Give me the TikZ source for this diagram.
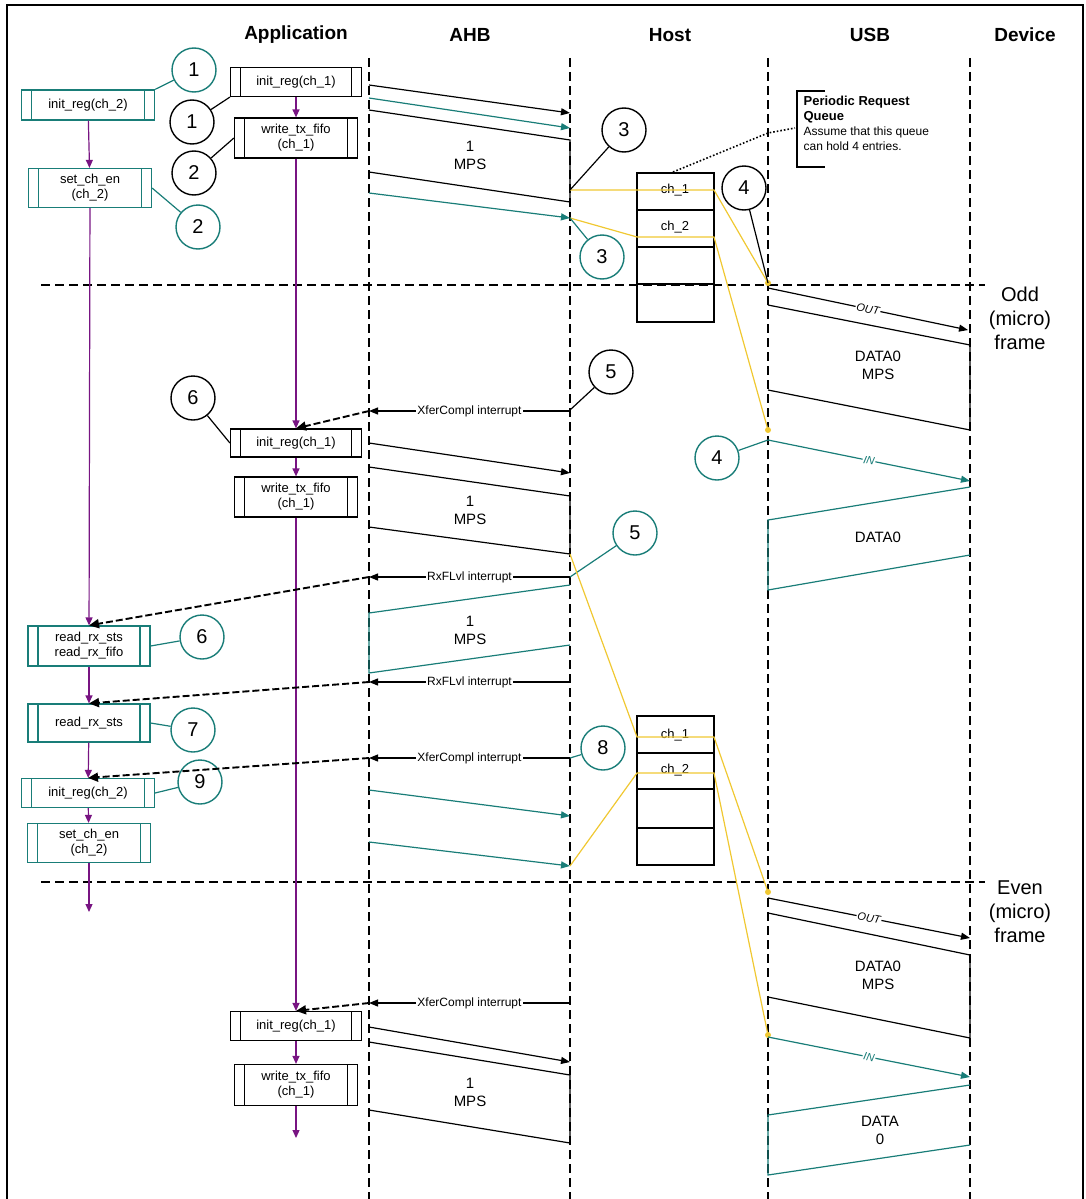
\documentclass[tikz,border=0pt]{standalone}
\usepackage{fontspec}
\setmainfont{Liberation Sans}
\usetikzlibrary{arrows.meta}
\definecolor{tl}{RGB}{25,125,120}
\definecolor{pu}{RGB}{120,20,130}
\definecolor{ye}{RGB}{240,200,50}
\begin{document}
\begin{tikzpicture}[x=1pt,y=-1pt,line width=1.2pt,
 lane/.style={dash pattern=on 9pt off 5pt,line width=2pt},
 hdr/.style={font=\bfseries\fontsize{19}{22}\selectfont},
 pbox/.style={draw=#1,rectangle,inner sep=1pt,align=center,font=\fontsize{13}{15}\selectfont,
   path picture={\draw[#1,line width=1.2pt] ([xshift=10pt]path picture bounding box.north west)--([xshift=10pt]path picture bounding box.south west)
    ([xshift=-10pt]path picture bounding box.north east)--([xshift=-10pt]path picture bounding box.south east);}},
 num/.style={draw=#1,circle,minimum size=44pt,inner sep=0pt,font=\fontsize{20}{22}\selectfont,line width=1.4pt,fill=white},
 parr/.style={pu,-{Triangle[length=8pt,width=7pt]}},
 barr/.style={-{Triangle[length=9pt,width=7pt]}},
 tarr/.style={tl,-{Triangle[length=9pt,width=7pt]}},
 intr/.style={-{Triangle[length=9pt,width=7pt]}},
 darr/.style={dash pattern=on 7pt off 3pt,line width=1.9pt,-{Triangle[length=10pt,width=9pt]}},
 ylw/.style={ye,line width=1.2pt},
 lbl/.style={fill=white,inner sep=1pt,font=\fontsize{12}{14}\selectfont},
 slbl/.style={fill=white,inner sep=1pt,sloped,font=\itshape\fontsize{11}{13}\selectfont},
 blk/.style={font=\fontsize{15}{18}\selectfont,align=center}]
\useasboundingbox (0,0) rectangle (1085,1199);
\draw[line width=1.4pt] (7,1199)--(7,5)--(1083,5)--(1083,1199);
\node[hdr] at (296,35) {Application};
\node[hdr] at (470,35) {AHB};
\node[hdr] at (670,35) {Host};
\node[hdr] at (870,35) {USB};
\node[hdr] at (1025,35) {Device};
\foreach \x in {369,570,768,970} \draw[lane] (\x,58)--(\x,1199);
\draw[lane] (41,285)--(985,285);
\draw[lane] (41,882)--(985,882);
\node[font=\fontsize{20}{24}\selectfont,align=center] at (1020,318) {Odd\\(micro)\\frame};
\node[font=\fontsize{20}{24}\selectfont,align=center] at (1020,912) {Even\\(micro)\\frame};
\node[pbox=tl,minimum width=133pt,minimum height=30pt] (a1) at (88,105) {init\_reg(ch\_2)};
\node[pbox=tl,minimum width=123pt,minimum height=39pt] (a2) at (90,188) {set\_ch\_en\\(ch\_2)};
\node[pbox=tl,minimum width=122pt,minimum height=40pt] (a3) at (89,646) {read\_rx\_sts\\read\_rx\_fifo};
\node[pbox=tl,minimum width=122pt,minimum height=38pt] (a4) at (89,723) {read\_rx\_sts};
\node[pbox=tl,minimum width=133pt,minimum height=29pt] (a5) at (88,793) {init\_reg(ch\_2)};
\node[pbox=tl,minimum width=123pt,minimum height=39pt] (a6) at (89,843) {set\_ch\_en\\(ch\_2)};
\coordinate (aend) at (89,912);
\draw[parr] (a1)--(a2);
\draw[parr] (a2)--(a3);
\draw[parr] (a3)--(a4);
\draw[parr] (a4)--(a5);
\draw[parr] (a5)--(a6);
\draw[parr] (a6)--(aend);
\node[pbox=black,minimum width=131pt,minimum height=29pt] (b1) at (296,82) {init\_reg(ch\_1)};
\node[pbox=black,minimum width=123pt,minimum height=40pt] (b2) at (296,138) {write\_tx\_fifo\\(ch\_1)};
\node[pbox=black,minimum width=131pt,minimum height=28pt] (b3) at (296,443) {init\_reg(ch\_1)};
\node[pbox=black,minimum width=123pt,minimum height=40pt] (b4) at (296,497) {write\_tx\_fifo\\(ch\_1)};
\node[pbox=black,minimum width=131pt,minimum height=29pt] (b5) at (296,1026) {init\_reg(ch\_1)};
\node[pbox=black,minimum width=123pt,minimum height=41pt] (b6) at (296,1085) {write\_tx\_fifo\\(ch\_1)};
\coordinate (bend) at (296,1138);
\draw[parr] (b1)--(b2);
\draw[parr] (b2)--(b3);
\draw[parr] (b3)--(b4);
\draw[parr] (b4)--(b5);
\draw[parr] (b5)--(b6);
\draw[parr] (b6)--(bend);
\node[num=tl] (t1) at (194,70) {1};
\draw[tl] (t1)--(a1.north east);
\node[num=black] (k1) at (192,122) {1};
\draw (k1)--(b1.south west);
\node[num=black] (k2) at (194,173) {2};
\draw (k2)--(b2.west);
\node[num=tl] (t2) at (198,227) {2};
\draw[tl] (t2)--(a2.east);
\node[num=black] (k6) at (193,398) {6};
\draw (k6)--(b3.west);
\node[num=tl] (t6) at (202,637) {6};
\draw[tl] (t6)--(a3.east);
\node[num=tl] (t7) at (193,730) {7};
\draw[tl] (t7)--(a4.east);
\node[num=tl] (t9) at (200,782) {9};
\draw[tl] (t9)--(a5.east);
\draw[barr] (369,85)--(570,113);
\draw[tarr] (369,98)--(570,128);
\draw (369,110)--(570,140)--(570,202)--(369,172);
\node[blk] at (470,155) {1\\MPS};
\draw[tarr] (369,193)--(570,218);
\draw (637,173) rectangle (714,322);
\foreach \y in {210,247,284} \draw (637,\y)--(714,\y);
\node[font=\fontsize{13}{15}\selectfont] at (675,190) {ch\_1};
\node[font=\fontsize{13}{15}\selectfont] at (675,227) {ch\_2};
\coordinate (q1a) at (570,190); \coordinate (q1b) at (570,218);
\coordinate (u1) at (768,283); \coordinate (u2) at (768,430);
\draw[ylw] (q1a)--(714,190)--(u1);
\draw[ylw] (q1b)--(637,237)--(714,237)--(u2);
\fill[ye] (u1) circle (3pt); \fill[ye] (u2) circle (3pt);
\node[num=black] (k3) at (624,130) {3};
\draw (k3)--(q1a);
\node[num=tl] (t3) at (602,257) {3};
\draw[tl] (t3)--(q1b);
\node[num=black] (k4) at (744,188) {4};
\draw (k4)--(u1);
\draw[dotted,line width=1.6pt] (673,172)--(768,133)--(795,128);
\draw (825,91)--(797,91)--(797,167)--(825,167);
\node[align=left,anchor=north west,inner sep=0pt,font=\fontsize{13}{15}\selectfont] at (803,95)
 {\textbf{Periodic Request}\\\textbf{Queue}\\{\fontsize{12}{14}\selectfont Assume that this queue}\\{\fontsize{12}{14}\selectfont can hold 4 entries.}};
\draw[barr] (768,288)--node[slbl]{OUT}(968,330);
\draw (768,305)--(970,345)--(970,430)--(768,390);
\node[blk] at (878,365) {DATA0\\MPS};
\node[num=black] (k5) at (611,372) {5};
\draw (k5)--(570,410);
\draw[intr] (570,411)--node[lbl]{XferCompl interrupt}(369,411);
\draw[darr] (369,411)--(b3.north);
\node[num=tl] (t4) at (717,458) {4};
\draw[tl] (t4)--(768,440);
\draw[tarr] (768,440)--node[slbl]{IN}(970,481);
\draw[tl] (970,487)--(768,520)--(768,590)--(970,555);
\node[blk] at (878,537) {DATA0};
\draw[barr] (369,443)--(570,473);
\draw (369,467)--(570,496)--(570,554)--(369,527);
\node[blk] at (470,510) {1\\MPS};
\draw[intr] (570,577)--node[lbl]{RxFLvl interrupt}(369,577);
\node[num=tl] (t5) at (635,533) {5};
\draw[tl] (t5)--(570,577);
\draw[tl] (570,585)--(369,613)--(369,673)--(570,645);
\node[blk] at (470,630) {1\\MPS};
\draw[darr] (369,577)--(a3.north);
\draw[intr] (570,682)--node[lbl]{RxFLvl interrupt}(369,682);
\draw[darr] (369,682)--(a4.north);
\draw[intr] (570,758)--node[lbl]{XferCompl interrupt}(369,758);
\draw[darr] (369,758)--(a5.north);
\node[num=tl] (t8) at (603,748) {8};
\draw[tl] (t8)--(570,758);
\draw[tarr] (369,790)--(570,816);
\draw[tarr] (369,842)--(570,866);
\draw (637,716) rectangle (714,865);
\foreach \y in {753,789,828} \draw (637,\y)--(714,\y);
\node[font=\fontsize{13}{15}\selectfont] at (675,735) {ch\_1};
\node[font=\fontsize{13}{15}\selectfont] at (675,770) {ch\_2};
\coordinate (u3) at (768,892); \coordinate (u4) at (768,1035);
\draw[ylw] (570,554)--(637,737)--(714,737)--(u3);
\draw[ylw] (570,866)--(637,773)--(714,773)--(u4);
\fill[ye] (u3) circle (3pt); \fill[ye] (u4) circle (3pt);
\draw[barr] (768,898)--node[slbl]{OUT}(970,938);
\draw (768,913)--(970,955)--(970,1038)--(768,997);
\node[blk] at (878,975) {DATA0\\MPS};
\draw[intr] (570,1003)--node[lbl]{XferCompl interrupt}(369,1003);
\draw[darr] (369,1003)--(b5.north);
\draw[barr] (369,1027)--(570,1062);
\draw (369,1042)--(570,1075)--(570,1143)--(369,1110);
\node[blk] at (470,1092) {1\\MPS};
\draw[tarr] (768,1037)--node[slbl]{IN}(970,1077);
\draw[tl] (970,1085)--(768,1115)--(768,1175)--(970,1145);
\node[blk] at (880,1130) {DATA\\0};
\end{tikzpicture}
\end{document}
